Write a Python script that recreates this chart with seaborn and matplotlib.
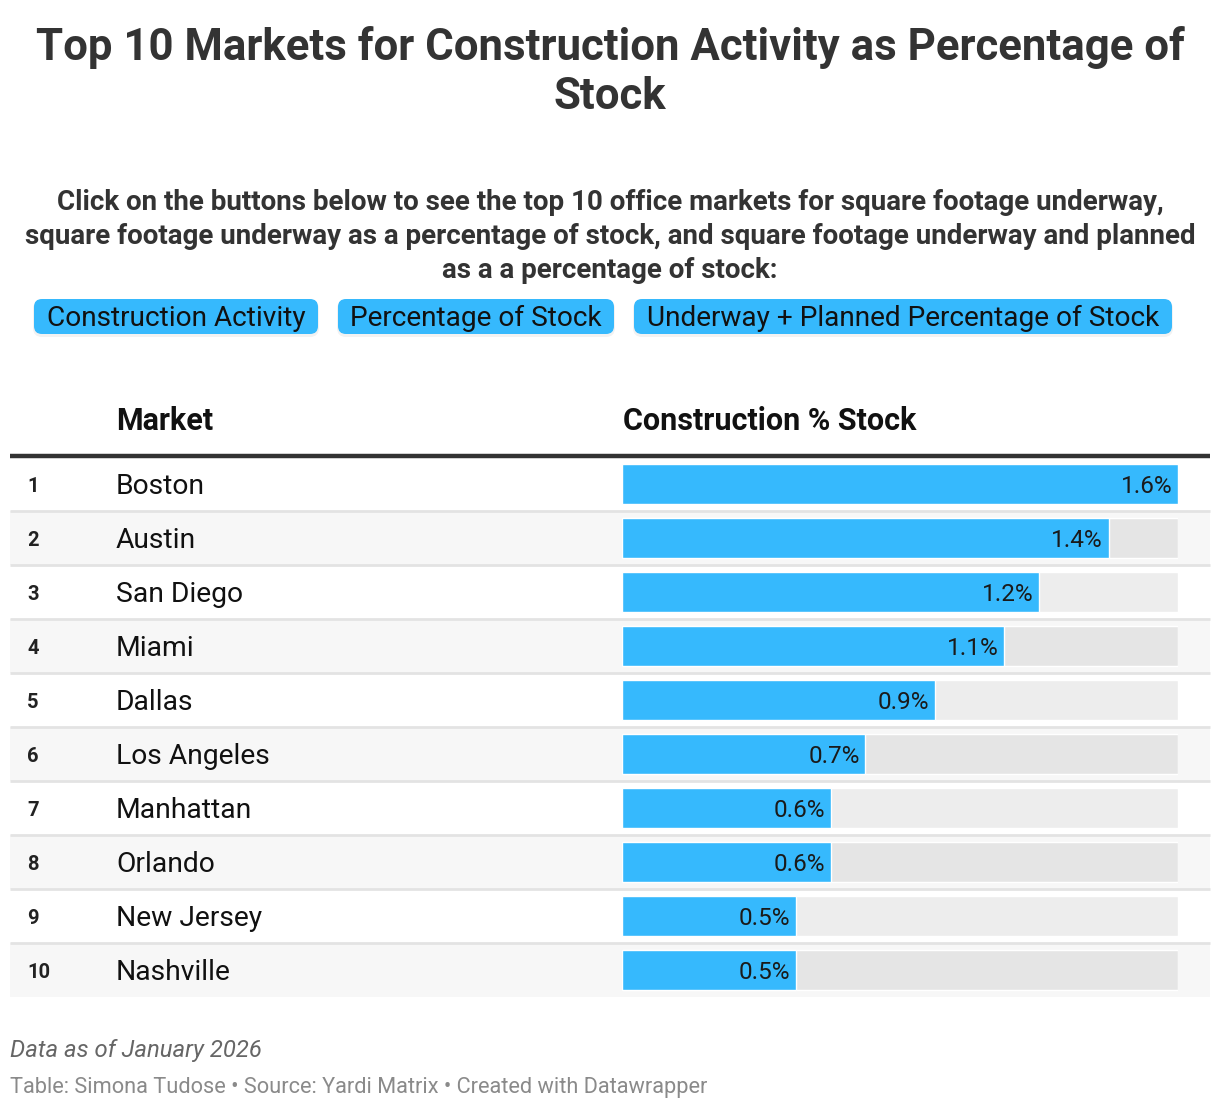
import matplotlib
matplotlib.use("Agg")
import matplotlib.pyplot as plt
from matplotlib.patches import Rectangle, FancyBboxPatch
import seaborn as sns
import pandas as pd

# ---------------- data ----------------
ranks = [1, 2, 3, 4, 5, 6, 7, 8, 9, 10]
markets = ["Boston", "Austin", "San Diego", "Miami", "Dallas", "Los Angeles",
           "Manhattan", "Orlando", "New Jersey", "Nashville"]
pct_stock = [1.6, 1.4, 1.2, 1.1, 0.9, 0.7, 0.6, 0.6, 0.5, 0.5]
buttons = ["Construction Activity", "Percentage of Stock",
           "Underway + Planned Percentage of Stock"]
title = "Top 10 Markets for Construction Activity as Percentage of\nStock"
subtitle_lines = [
    "Click on the buttons below to see the top 10 office markets for square footage underway,",
    "square footage underway as a percentage of stock, and square footage underway and planned",
    "as a a percentage of stock:",
]
col_headers = ["Market", "Construction % Stock"]
note = "Data as of January 2026"
credit = "Table: Simona Tudose \u2022 Source: Yardi Matrix \u2022 Created with Datawrapper"

df = pd.DataFrame({"rank": ranks, "market": markets, "value": pct_stock})
df["track"] = max(pct_stock)

# ---------------- style ----------------
sns.set_theme(style="white")
plt.rcParams["font.family"] = ["Roboto", "DejaVu Sans"]

W, H = 1220, 1110
fig = plt.figure(figsize=(W / 100, H / 100), dpi=100)
fig.patch.set_facecolor("white")

# overlay axes in pixel coordinates
bg = fig.add_axes([0, 0, 1, 1], zorder=0)
bg.set_xlim(0, W)
bg.set_ylim(H, 0)
bg.axis("off")

BLUE = "#36b9fd"
DARK = "#333333"

# title
bg.text(W / 2, 72, title, ha="center", va="center", fontsize=31.5,
        fontweight="bold", color=DARK, linespacing=1.2)

# subtitle
for i, line in enumerate(subtitle_lines):
    bg.text(W / 2, 202 + 34 * i, line, ha="center", va="center", fontsize=20,
            fontweight="bold", color=DARK)

# buttons
btn_boxes = [(34, 318), (338, 614), (634, 1172)]
for (x0, x1), lab in zip(btn_boxes, buttons):
    sh = FancyBboxPatch((x0 - 1, 300), x1 - x0 + 2, 37,
                        boxstyle="round,pad=0,rounding_size=9",
                        facecolor="#000000", alpha=0.05, edgecolor="none")
    bg.add_patch(sh)
    b = FancyBboxPatch((x0, 299), x1 - x0, 35,
                       boxstyle="round,pad=0,rounding_size=8",
                       facecolor=BLUE, edgecolor="none")
    bg.add_patch(b)
    bg.text((x0 + x1) / 2, 318, lab, ha="center", va="center",
            fontsize=20.2, color="#111111")

# column headers
bg.text(116, 421, col_headers[0], ha="left", va="center", fontsize=22,
        fontweight="bold", color="#111111")
bg.text(623, 421, col_headers[1], ha="left", va="center", fontsize=22,
        fontweight="bold", color="#111111")

# table rows
TOP = 457
RH = 54
for i in range(len(markets)):
    y0 = TOP + i * RH
    if i % 2 == 1:
        bg.add_patch(Rectangle((10, y0), 1200, RH, facecolor="#f7f7f7",
                               edgecolor="none"))
    if i < len(markets) - 1:
        bg.plot([10, 1210], [y0 + RH, y0 + RH], color="#e3e3e3", lw=2,
                solid_capstyle="butt")
    yc = y0 + RH / 2
    bg.text(27, yc + 2, str(ranks[i]), ha="left", va="center", fontsize=14.5,
            fontweight="bold", color="#222222")
    bg.text(116, yc + 2, markets[i], ha="left", va="center", fontsize=20.3,
            color="#111111")

# header rule
bg.plot([10, 1210], [456, 456], color=DARK, lw=3.2, solid_capstyle="butt")

# footer
bg.text(10, 1051, note, ha="left", va="center", fontsize=17.2,
        fontstyle="italic", color="#666666")
bg.text(10, 1087, credit, ha="left", va="center", fontsize=15.7,
        color="#8a8a8a")

# ---------------- bar column ----------------
ax = fig.add_axes([622 / W, 1 - (TOP + 10 * RH) / H, 556 / W, 10 * RH / H],
                  zorder=1)
ax.patch.set_alpha(0)

track_colors = ["#ededed" if i % 2 == 0 else "#e5e5e5" for i in range(len(markets))]
sns.barplot(data=df, x="track", y="market", hue="market", palette=track_colors,
            legend=False, width=0.73, orient="h", ax=ax, saturation=1)
sns.barplot(data=df, x="value", y="market", color=BLUE, width=0.73,
            orient="h", ax=ax, saturation=1)

for i, v in enumerate(pct_stock):
    ax.annotate(f"{v:.1f}%", xy=(v, i), xytext=(-4, -1.5),
                textcoords="offset points", ha="right", va="center",
                fontsize=17.5, color="#1a1a1a")

ax.set_xlim(0, max(pct_stock))
ax.set_ylim(len(markets) - 0.5, -0.5)
ax.set_xlabel("")
ax.set_ylabel("")
ax.set_xticks([])
ax.set_yticks([])
for s in ax.spines.values():
    s.set_visible(False)

fig.savefig("out.png", dpi=100, facecolor="white")
